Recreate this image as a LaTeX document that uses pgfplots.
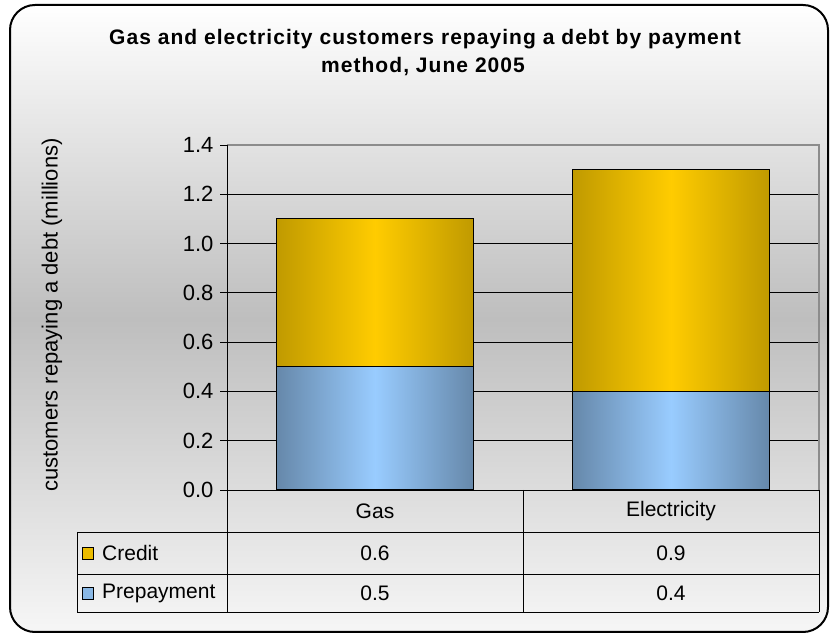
\documentclass[border=0pt]{standalone}
\usepackage{fontspec}
\setmainfont{Liberation Sans}
\newfontfamily\titlefont[LetterSpace=5]{Liberation Sans}
\usepackage{pgfplots}
\pgfplotsset{compat=1.18}
\definecolor{goldE}{HTML}{C09A00}
\definecolor{goldC}{HTML}{FFCC00}
\definecolor{blueE}{HTML}{6688AA}
\definecolor{blueC}{HTML}{99CCFF}
\definecolor{bgmid}{HTML}{BEBEBE}
\definecolor{bgbot}{HTML}{F6F6F6}
\definecolor{plotborder}{HTML}{8C8C8C}
\newcommand{\fs}{\fontsize{21bp}{25bp}\selectfont}
\pgfplotsset{
  common/.style={at={(227bp,144bp)}, anchor=south west, scale only axis,
    width=592bp, height=345bp,
    xmin=-0.5, xmax=1.5, ymin=0, ymax=1.4,
    ybar stacked, bar width=197bp, clip=false},
  prep/.style={draw=black, line width=1bp, left color=blueE, right color=blueE, middle color=blueC},
  cred/.style={draw=black, line width=1bp, left color=goldE, right color=goldE, middle color=goldC},
}
\begin{document}
\begin{tikzpicture}[x=1bp,y=1bp]
\useasboundingbox (0,0) rectangle (830,634);
\shade[top color=white, bottom color=bgbot, middle color=bgmid, rounded corners=25bp] (10,2) rectangle (828,629);
% Gas stack (with ticks and grid)
\begin{axis}[common,
  xtick=\empty,
  ytick={0,0.2,0.4,0.6,0.8,1.0,1.2,1.4},
  ytick pos=left, tick align=outside, major tick length=7bp,
  tick style={black, line width=0.8bp},
  ymajorgrids, grid style={black, line width=0.8bp},
  axis line style={draw=none},
  yticklabel style={font=\fontsize{22bp}{26bp}\selectfont, xshift=-3bp, /pgf/number format/fixed, /pgf/number format/fixed zerofill, /pgf/number format/precision=1},
  /pgf/number format/assume math mode=true,
]
\addplot[prep] coordinates {(0,0.5)};
\addplot[cred] coordinates {(0,0.6)};
\end{axis}
% Electricity stack (same axis, nothing else drawn)
\begin{axis}[common, axis lines=none, xtick=\empty, ytick=\empty]
\addplot[prep] coordinates {(1,0.4)};
\addplot[cred] coordinates {(1,0.9)};
\end{axis}
% plot area border
\draw[plotborder, line width=1.2bp] (227,489) -- (819,489) -- (819,144);
\draw[black, line width=1bp] (227,489) -- (227,22);
% data table
\draw[black, line width=0.8bp] (227,144) -- (819,144);
\draw[black, line width=0.8bp] (77,102) -- (819,102);
\draw[black, line width=0.8bp] (77,60) -- (819,60);
\draw[black, line width=0.8bp] (77,22) -- (819,22);
\draw[black, line width=0.8bp] (77,102) -- (77,22);
\draw[black, line width=0.8bp] (523,144) -- (523,22);
\draw[black, line width=0.8bp] (819,144) -- (819,22);
\node[font=\fs] at (375,123) {Gas};
\node[font=\fs] at (671,123) {Electricity};
\node[font=\fs] at (375,81) {0.6};
\node[font=\fs] at (671,81) {0.9};
\node[font=\fs] at (375,41) {0.5};
\node[font=\fs] at (671,41) {0.4};
\draw[black, line width=0.8bp, fill=goldC!92!black] (82,75) rectangle (93,87);
\draw[black, line width=0.8bp, fill=blueC!90!black] (82,35) rectangle (93,47);
\node[font=\fs, anchor=west, inner sep=0pt] at (102,81) {Credit};
\node[font=\fs, anchor=west, inner sep=0pt] at (102,41) {Prepayment};
% y label
\node[font=\fontsize{22bp}{26bp}\selectfont, rotate=90] at (52,319) {customers repaying a debt (millions)};
% title
\node[font=\fontsize{21bp}{28bp}\selectfont\titlefont\bfseries, anchor=base] at (425,589)
  {Gas and electricity customers repaying a debt by payment};
\node[font=\fontsize{21bp}{28bp}\selectfont\titlefont\bfseries, anchor=base] at (423,561)
  {method, June 2005};
% frame
\draw[black, line width=2bp, rounded corners=25bp] (10,2) rectangle (828,629);
\end{tikzpicture}
\end{document}
